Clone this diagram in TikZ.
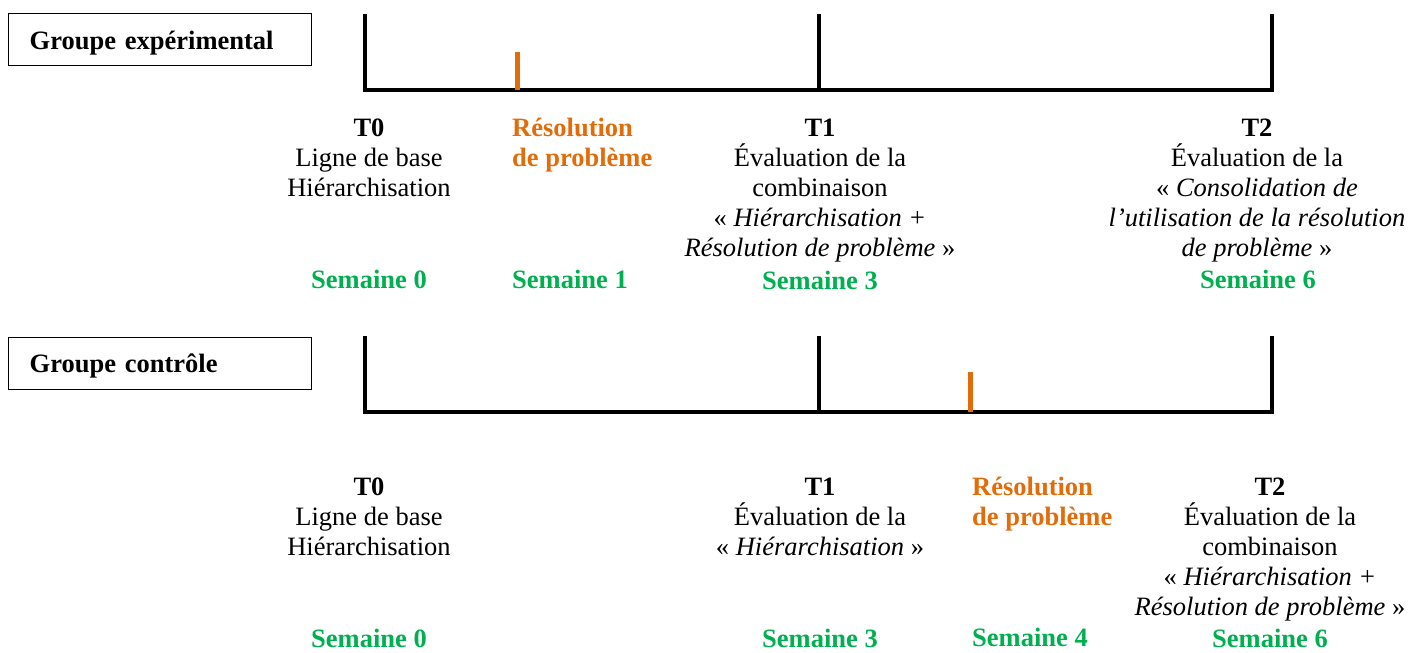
\documentclass[tikz,border=0pt]{standalone}
\usepackage{fontspec}
\setmainfont{Liberation Serif}
\definecolor{orng}{HTML}{E36C0A}
\definecolor{grn}{HTML}{00B050}
\newcommand{\fl}{\rule{0pt}{24pt}}
\begin{document}
\begin{tikzpicture}[x=1pt,y=-1pt,
  txt/.style={inner sep=0pt, font=\fontsize{26.5}{30}\selectfont, align=center, anchor=north},
  otxt/.style={inner sep=0pt, font=\fontsize{26.5}{30}\selectfont\bfseries, text=orng, align=left, anchor=north west},
  sem/.style={inner sep=0pt, font=\fontsize{26.5}{30}\selectfont\bfseries, text=grn, anchor=base},
  grpbox/.style={draw, line width=1.3pt, anchor=north west, text width=261pt, inner xsep=21pt, inner ysep=4pt, align=left, font=\fontsize{26.5}{30}\selectfont\bfseries},
  tline/.style={line width=4pt, black, line cap=butt},
  otick/.style={line width=5pt, orng, line cap=butt}]
\useasboundingbox (0,0) rectangle (1424,653);

% ---------- Groupe expérimental ----------
\node[grpbox, text height=32pt, text depth=12pt] (g1) at (8,13) {Groupe expérimental};

\coordinate (a0) at (365,14);
\coordinate (a0b) at (365,90);
\coordinate (a1) at (819,14);
\coordinate (a1b) at (819,90);
\coordinate (a2) at (1272,14);
\coordinate (a2b) at (1272,90);
\coordinate (ao) at (517.5,52);
\coordinate (aob) at (517.5,90);
\draw[tline] (a0) -- (a0b) -- (a2b) -- (a2);
\draw[tline] (a1) -- (a1b);
\draw[otick] (ao) -- (aob);

\node[txt] (e0) at (369,112) {\fl\textbf{T0}\\Ligne de base\\Hiérarchisation};
\node[otxt] (er) at (512,112) {\fl Résolution\\de problème};
\node[txt] (e1) at (820,112) {\fl\textbf{T1}\\Évaluation de la\\combinaison\\«~\textit{Hiérarchisation +}\\\textit{Résolution de problème}~»};
\node[txt] (e2) at (1257,112) {\fl\textbf{T2}\\Évaluation de la\\«~\textit{Consolidation de}\\\textit{l’utilisation de la résolution}\\\textit{de problème}~»};

\node[sem] (s0) at (369,288) {Semaine 0};
\node[sem, anchor=base west] (s1) at (512,288) {Semaine 1};
\node[sem] (s3) at (820,289) {Semaine 3};
\node[sem] (s6) at (1258,288) {Semaine 6};

% ---------- Groupe contrôle ----------
\node[grpbox, text height=31pt, text depth=13pt] (g2) at (8,337) {Groupe contrôle};

\coordinate (b0) at (365,336);
\coordinate (b0b) at (365,412);
\coordinate (b1) at (819,336);
\coordinate (b1b) at (819,412);
\coordinate (b2) at (1272,336);
\coordinate (b2b) at (1272,412);
\coordinate (bo) at (970.5,372);
\coordinate (bob) at (970.5,412);
\draw[tline] (b0) -- (b0b) -- (b2b) -- (b2);
\draw[tline] (b1) -- (b1b);
\draw[otick] (bo) -- (bob);

\node[txt] (c0) at (369,471) {\fl\textbf{T0}\\Ligne de base\\Hiérarchisation};
\node[txt] (c1) at (820,471) {\fl\textbf{T1}\\Évaluation de la\\«~\textit{Hiérarchisation}~»};
\node[otxt] (cr) at (972,471) {\fl Résolution\\de problème};
\node[txt] (c2) at (1270,471) {\fl\textbf{T2}\\Évaluation de la\\combinaison\\«~\textit{Hiérarchisation +}\\\textit{Résolution de problème}~»};

\node[sem] (t0) at (369,647) {Semaine 0};
\node[sem] (t3) at (820,647) {Semaine 3};
\node[sem, anchor=base west] (t4) at (972,646) {Semaine 4};
\node[sem] (t6) at (1270,647) {Semaine 6};
\end{tikzpicture}
\end{document}
